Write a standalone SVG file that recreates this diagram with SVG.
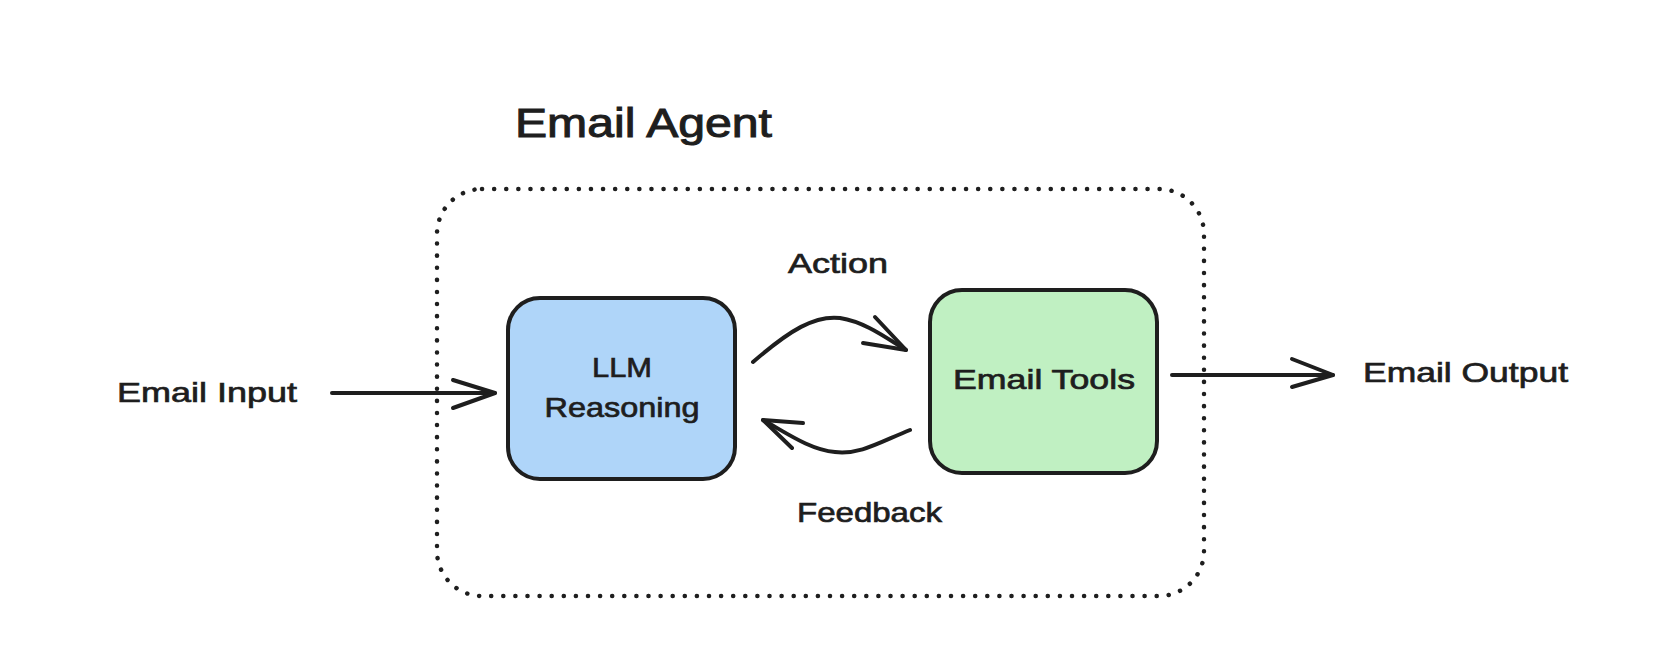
<svg xmlns="http://www.w3.org/2000/svg" width="1674" height="668" viewBox="0 0 1674 668">
<style>
.t{font-family:"Liberation Sans",Arial,sans-serif;fill:#1e1e1e;stroke:#1e1e1e;stroke-width:0.7;font-size:28px}
.title{font-size:40px;stroke-width:1}
.box{stroke:#1e1e1e;stroke-width:4;stroke-linejoin:round}
.edge{fill:none;stroke:#1e1e1e;stroke-width:4;stroke-linecap:round;stroke-linejoin:round}
</style>
<rect width="1674" height="668" fill="#ffffff"/>
<g id="agent">
<rect x="437" y="189" width="767" height="407" rx="45" fill="none" stroke="#1e1e1e" stroke-width="4.5" stroke-linecap="round" stroke-dasharray="0.1 12"/>
<text class="t title" x="515" y="137" textLength="257" lengthAdjust="spacingAndGlyphs">Email Agent</text>
</g>
<g id="llm">
<rect class="box" x="508" y="298" width="227" height="181" rx="32" fill="#afd5f9"/>
<text class="t" x="622" y="377" text-anchor="middle" textLength="60" lengthAdjust="spacingAndGlyphs">LLM</text>
<text class="t" x="622" y="417" text-anchor="middle" textLength="155" lengthAdjust="spacingAndGlyphs">Reasoning</text>
</g>
<g id="tools">
<rect class="box" x="930" y="290" width="227" height="183" rx="32" fill="#c0f0c2"/>
<text class="t" x="1044" y="389" text-anchor="middle" textLength="182" lengthAdjust="spacingAndGlyphs">Email Tools</text>
</g>
<g id="input">
<text class="t" x="117" y="402" textLength="180" lengthAdjust="spacingAndGlyphs">Email Input</text>
</g>
<g id="output">
<text class="t" x="1363" y="382" textLength="205" lengthAdjust="spacingAndGlyphs">Email Output</text>
</g>
<g id="connectors">
<path class="edge" d="M332 393 L495 393"/>
<path class="edge" d="M453 380 L495 393 L453 408"/>
<path class="edge" d="M1172 375 L1333 375"/>
<path class="edge" d="M1292 359 L1333 375 L1292 387"/>
<path class="edge" d="M753 362 C790 330 815 315 840 318 C865 322 885 337 906 350"/>
<path class="edge" d="M875 317 L906 350 L863 343"/>
<path class="edge" d="M910 430 C880 442 860 455 835 452 C810 450 785 432 763 420"/>
<path class="edge" d="M803 423 L763 420 L792 448"/>
<text class="t" x="788" y="273" textLength="100" lengthAdjust="spacingAndGlyphs">Action</text>
<text class="t" x="797" y="522" textLength="145" lengthAdjust="spacingAndGlyphs">Feedback</text>
</g>
</svg>
